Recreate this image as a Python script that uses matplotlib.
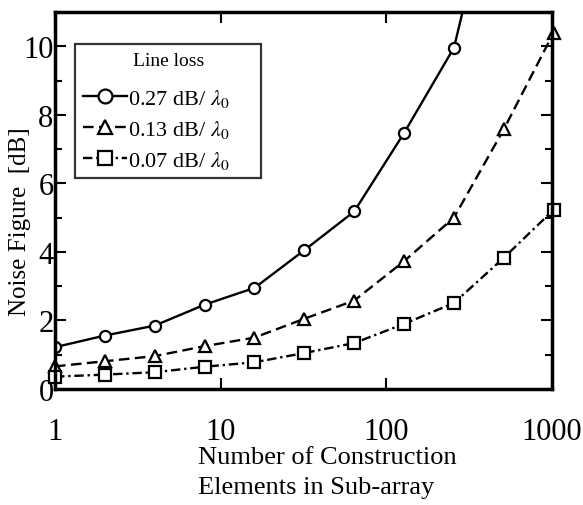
import matplotlib
matplotlib.use("Agg")
import matplotlib.pyplot as plt
from matplotlib.ticker import FixedLocator, NullLocator

# Data
elements = [1, 2, 4, 8, 16, 32, 64, 128, 256, 512, 1024]
nf_027 = [1.22, 1.56, 1.85, 2.46, 2.95, 4.05, 5.18, 7.47, 9.96, 16.0]
nf_013 = [0.66, 0.81, 0.96, 1.25, 1.50, 2.05, 2.58, 3.73, 5.00, 7.58, 10.4]
nf_007 = [0.36, 0.42, 0.49, 0.65, 0.78, 1.05, 1.34, 1.90, 2.51, 3.83, 5.23]
labels = ["0.27 dB/ $\\lambda_0$", "0.13 dB/ $\\lambda_0$", "0.07 dB/ $\\lambda_0$"]

plt.rcParams["font.family"] = ["Liberation Serif", "DejaVu Serif"]
plt.rcParams["mathtext.fontset"] = "stix"

fig = plt.figure(figsize=(5.83, 5.06), dpi=100)
ax = fig.add_axes([55 / 583, 1 - 390 / 506, 497 / 583, 377 / 506])

mk = dict(color="black", markerfacecolor="white", markeredgecolor="black",
          markersize=8, markeredgewidth=1.6, linewidth=1.7)

ax.plot(elements[:len(nf_027)], nf_027, marker="o", linestyle="-", label=labels[0], **mk)
ax.plot(elements, nf_013, marker="^", linestyle=(0, (4.5, 2.3)), label=labels[1],
        clip_on=False, **mk)
ax.plot(elements, nf_007, marker="s", linestyle=(0, (4, 1.6, 1, 1.6)), label=labels[2],
        clip_on=False, **mk)

ax.set_xscale("log")
ax.set_xlim(1, 1000)
ax.set_ylim(0, 11)
ax.xaxis.set_major_locator(FixedLocator([1, 10, 100, 1000]))
ax.xaxis.set_minor_locator(NullLocator())
ax.set_xticklabels(["1", "10", "100", "1000"])
ax.set_yticks([0, 2, 4, 6, 8, 10])
ax.yaxis.set_minor_locator(FixedLocator([1, 3, 5, 7, 9]))

ax.tick_params(which="both", direction="in", top=True, right=True, width=1.5)
ax.tick_params(which="major", length=8)
ax.tick_params(which="minor", length=5)
ax.tick_params(axis="x", labelsize=22, pad=20)
ax.tick_params(axis="y", labelsize=22, pad=1)
for s in ax.spines.values():
    s.set_linewidth(2.5)

ax.set_xlabel("Number of Construction\nElements in Sub-array", fontsize=19,
              linespacing=1.45, ha="left", va="top")
ax.xaxis.set_label_coords((198 - 55) / 497, -(447 - 390) / 377)
ax.set_ylabel("Noise Figure  [dB]", fontsize=18, va="center")
ax.yaxis.set_label_coords(-(55 - 20) / 497, (390 - 222) / 377)

pad_labels = [lab + "     " for lab in labels]
handles, _ = ax.get_legend_handles_labels()
leg = ax.legend(handles, pad_labels, loc="upper left", bbox_to_anchor=(0.04, 0.915),
                title="Line loss\n", fontsize=16, title_fontsize=14, frameon=True,
                fancybox=False, handlelength=2.0, handletextpad=0.05, borderpad=0.35,
                labelspacing=0.4, borderaxespad=0, markerscale=1.25)
leg.get_title().set_linespacing(0.4)
leg.get_frame().set_edgecolor("black")
leg.get_frame().set_linewidth(1.6)

fig.savefig("out.png", dpi=100)
